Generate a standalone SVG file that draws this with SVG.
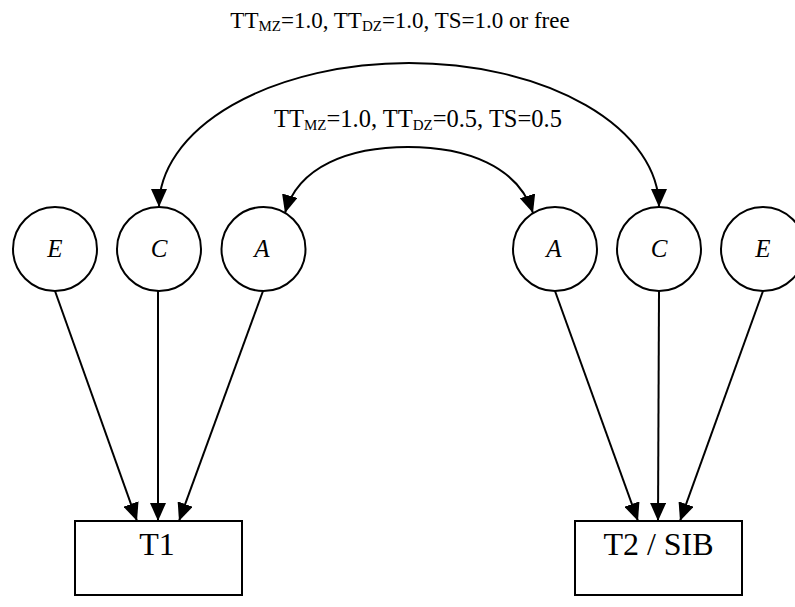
<svg xmlns="http://www.w3.org/2000/svg" width="795" height="607" viewBox="0 0 795 607">
<style>
.n{fill:#fff;stroke:#000;stroke-width:2}
text{font-family:'Liberation Serif','Times New Roman','DejaVu Serif',serif;fill:#000}
.v{font-style:italic;font-size:25px;text-anchor:middle}
.box{font-size:32px;text-anchor:middle}
.cap{font-size:23px;text-anchor:middle}
.sub{font-size:15px}
.e{fill:none;stroke:#000;stroke-width:2}
</style>
<defs>
<marker id="ah" viewBox="0 0 18 16" refX="18" refY="8" markerWidth="18" markerHeight="16" markerUnits="userSpaceOnUse" orient="auto-start-reverse">
<path d="M0,0 L18,8 L0,16 z" fill="#000"/>
</marker>
</defs>
<rect width="795" height="607" fill="#fff"/>
<g id="connectors">
<path class="e" d="M55,291 L137,521" marker-end="url(#ah)"/>
<path class="e" d="M158,291 L158,521" marker-end="url(#ah)"/>
<path class="e" d="M263,291 L179,521" marker-end="url(#ah)"/>
<path class="e" d="M555,291 L638,521" marker-end="url(#ah)"/>
<path class="e" d="M659,291 L658,521" marker-end="url(#ah)"/>
<path class="e" d="M763,291 L680,521" marker-end="url(#ah)"/>
<path class="e" d="M159,207 A250,144 0 0 1 659,207" marker-start="url(#ah)" marker-end="url(#ah)"/>
<path class="e" d="M285,213 C298,166 350,147 408,147 C466,147 518,166 533,213" marker-start="url(#ah)" marker-end="url(#ah)"/>
</g>
<g id="E1"><circle class="n" cx="55" cy="249" r="42"/><text class="v" x="55" y="257">E</text></g>
<g id="C1"><circle class="n" cx="159" cy="249" r="42"/><text class="v" x="159" y="257">C</text></g>
<g id="A1"><circle class="n" cx="263.5" cy="249" r="42"/><text class="v" x="262" y="257">A</text></g>
<g id="A2"><circle class="n" cx="555" cy="249" r="42"/><text class="v" x="554" y="257">A</text></g>
<g id="C2"><circle class="n" cx="659" cy="249" r="42"/><text class="v" x="659" y="257">C</text></g>
<g id="E2"><circle class="n" cx="763" cy="249" r="42"/><text class="v" x="763" y="257">E</text></g>
<g id="T1"><rect class="n" x="75" y="521" width="167" height="74"/><text class="box" x="157" y="555">T1</text></g>
<g id="T2"><rect class="n" x="575" y="521" width="167" height="74"/><text class="box" x="658.5" y="555">T2 / SIB</text></g>
<g id="label-outer"><text class="cap" x="400" y="28">TT<tspan class="sub" dy="3">MZ</tspan><tspan dy="-3">=1.0, TT</tspan><tspan class="sub" dy="3">DZ</tspan><tspan dy="-3">=1.0, TS=1.0 or free</tspan></text></g>
<g id="label-inner"><text class="cap" x="418" y="127" style="font-size:24.5px">TT<tspan class="sub" dy="3">MZ</tspan><tspan dy="-3">=1.0, TT</tspan><tspan class="sub" dy="3">DZ</tspan><tspan dy="-3">=0.5, TS=0.5</tspan></text></g>
</svg>
